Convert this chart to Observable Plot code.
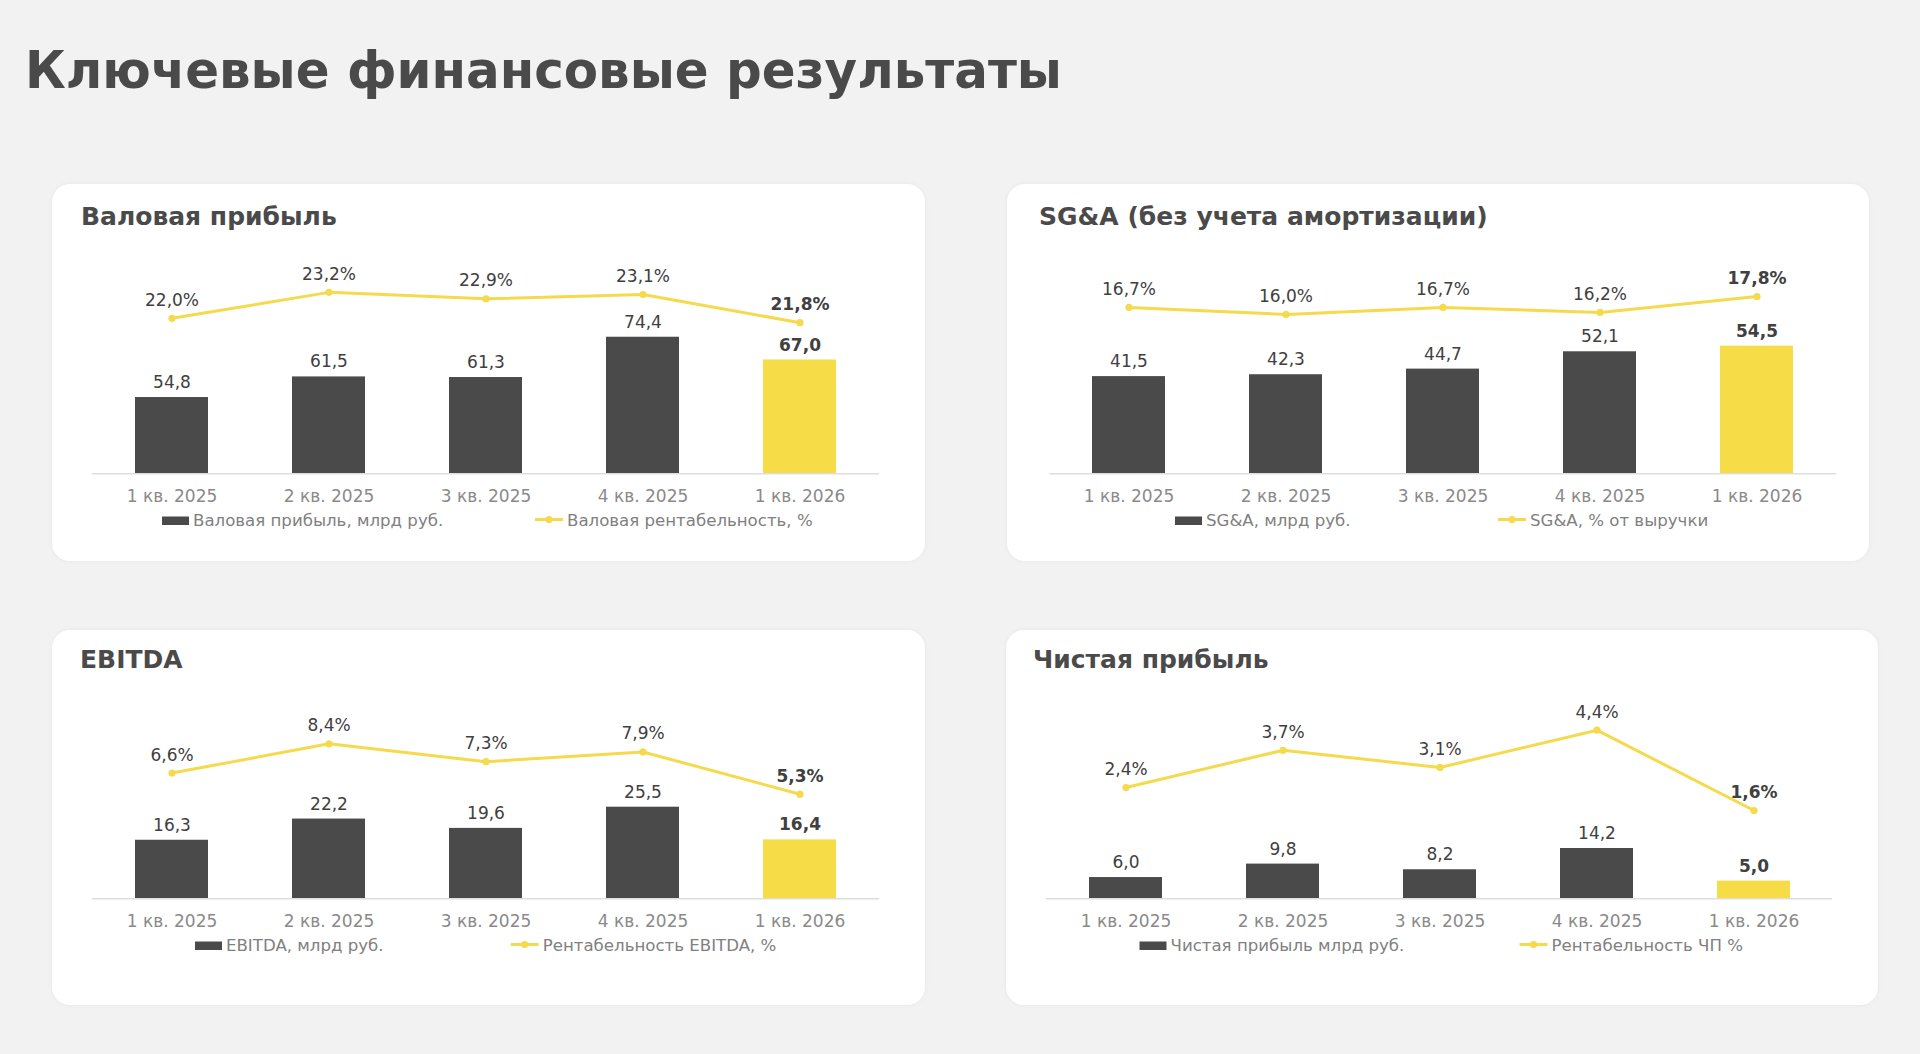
<!DOCTYPE html>
<html lang="ru">
<head>
<meta charset="utf-8">
<script src="https://cdn.jsdelivr.net/npm/d3@7"></script>
<script src="https://cdn.jsdelivr.net/npm/@observablehq/plot@0.6"></script>
<style>
  html, body { margin: 0; padding: 0; }
  body {
    width: 1920px; height: 1054px; background: #f2f2f2;
    position: relative; overflow: hidden;
    font-family: "DejaVu Sans", Verdana, sans-serif;
  }
  h1 {
    position: absolute; left: 25px; top: 44px; margin: 0;
    font-size: 52px; line-height: 52px; font-weight: bold;
    color: #4a4a4a; white-space: nowrap;
    transform: scaleX(0.96); transform-origin: 0 0;
  }
  .card {
    position: absolute; background: #ffffff; border-radius: 18px;
    box-shadow: 0 0 5px rgba(0, 0, 0, 0.05);
  }
  .card h2 {
    position: absolute; margin: 0;
    font-size: 25px; line-height: 25px; font-weight: bold;
    color: #4a4a4a; white-space: nowrap;
  }
  .card svg { position: absolute; left: 0; overflow: visible; }
</style>
</head>
<body>
<h1>Ключевые финансовые результаты</h1>
<script>
// Quarters on the category axis
const quarters = ["1 кв. 2025", "2 кв. 2025", "3 кв. 2025", "4 кв. 2025", "1 кв. 2026"];

// Gross profit, bn RUB, and gross margin, %
const grossProfit = [54.8, 61.5, 61.3, 74.4, 67.0];
const grossMargin = [22.0, 23.2, 22.9, 23.1, 21.8];

// SG&A excluding D&A, bn RUB, and as % of revenue
const sgaValue = [41.5, 42.3, 44.7, 52.1, 54.5];
const sgaShare = [16.7, 16.0, 16.7, 16.2, 17.8];

// EBITDA, bn RUB, and EBITDA margin, %
const ebitdaValue = [16.3, 22.2, 19.6, 25.5, 16.4];
const ebitdaMargin = [6.6, 8.4, 7.3, 7.9, 5.3];

// Net profit, bn RUB, and net margin, %
const netProfit = [6.0, 9.8, 8.2, 14.2, 5.0];
const netMargin = [2.4, 3.7, 3.1, 4.4, 1.6];

// Panel titles and legend texts
const panelTitles = ["Валовая прибыль", "SG&A (без учета амортизации)", "EBITDA", "Чистая прибыль"];
const barSeriesNames = ["Валовая прибыль, млрд руб.", "SG&A, млрд руб.", "EBITDA, млрд руб.", "Чистая прибыль млрд руб."];
const lineSeriesNames = ["Валовая рентабельность, %", "SG&A, % от выручки", "Рентабельность EBITDA, %", "Рентабельность ЧП %"];

const DARK = "#4a4a4b";
const YELLOW = "#f6dc46";
const LINE = "#f4da4c";
const VALUE_TEXT = "#404040";
const AXIS_TEXT = "#8a8a8a";
const LEGEND_TEXT = "#808080";
const FONT = "'DejaVu Sans', Verdana, sans-serif";

const fmt = v => d3.format(".1f")(v).replace(".", ",");

// Layout of each card (page pixels) and the two value axes of each combo chart
const panels = [
  {bars: grossProfit, pcts: grossMargin, card: [52, 184, 873, 377], titleX: 81, titleBase: 225,
   x0: 92, x1: 879, base: 473.3, barDomain: [30, 96.1], lineDomain: [14.82, 24.21], legBar: 162, legLine: 535},
  {bars: sgaValue, pcts: sgaShare, card: [1007, 184, 862, 377], titleX: 1039, titleBase: 225,
   x0: 1049.4, x1: 1836, base: 473.3, barDomain: [0, 86.8], lineDomain: [0, 20.41], legBar: 1175, legLine: 1498},
  {bars: ebitdaValue, pcts: ebitdaMargin, card: [52, 630, 873, 375], titleX: 80, titleBase: 668.3,
   x0: 92, x1: 879, base: 898.3, barDomain: [0, 56.6], lineDomain: [-1.13, 11.37], legBar: 195, legLine: 510.7},
  {bars: netProfit, pcts: netMargin, card: [1006, 630, 872, 375], titleX: 1033, titleBase: 668.3,
   x0: 1046, x1: 1832, base: 898.3, barDomain: [0, 57.4], lineDomain: [-1.48, 5.61], legBar: 1139.5, legLine: 1519.5}
];

const SVG_H = 270;          // height of each chart svg
const BASE_FROM_TOP = 233.3; // distance from svg top to the category baseline

const bandX = () => ({type: "band", domain: quarters, paddingInner: 0.536, paddingOuter: 0.268});

panels.forEach((p, k) => {
  const [cx, cy, cw, ch] = p.card;
  const card = document.createElement("div");
  card.className = "card";
  Object.assign(card.style, {left: cx + "px", top: cy + "px", width: cw + "px", height: ch + "px"});
  document.body.appendChild(card);

  const h2 = document.createElement("h2");
  h2.textContent = panelTitles[k];
  h2.style.left = (p.titleX - cx) + "px";
  h2.style.top = (p.titleBase - 21.15 - cy) + "px";
  card.appendChild(h2);

  const rows = quarters.map((q, i) => ({q, bar: p.bars[i], pct: p.pcts[i], last: i === quarters.length - 1}));

  const frame = {
    width: cw, height: SVG_H,
    marginLeft: p.x0 - cx, marginRight: cx + cw - p.x1,
    marginTop: 30, marginBottom: SVG_H - BASE_FROM_TOP
  };
  const svgTop = (p.base - BASE_FROM_TOP - cy) + "px";
  const style = {background: "transparent", color: AXIS_TEXT, fontFamily: FONT, fontSize: "17px", overflow: "visible"};

  // Bars with value labels and the category axis
  const barChart = Plot.plot({
    ...frame, style,
    x: {...bandX(), label: null, tickSize: 0, tickPadding: 16.6},
    y: {domain: p.barDomain, axis: null},
    color: {type: "identity"},
    marks: [
      Plot.barY(rows, {x: "q", y1: p.barDomain[0], y2: "bar", fill: d => d.last ? YELLOW : DARK}),
      Plot.ruleY([p.barDomain[0]], {stroke: "#dedede", strokeWidth: 1.5}),
      Plot.text(rows, {filter: d => !d.last, x: "q", y: "bar", text: d => fmt(d.bar),
        dy: -9.5, lineAnchor: "bottom", fill: VALUE_TEXT}),
      Plot.text(rows, {filter: d => d.last, x: "q", y: "bar", text: d => fmt(d.bar),
        dy: -9.5, lineAnchor: "bottom", fill: VALUE_TEXT, fontWeight: "bold"})
    ]
  });
  barChart.style.top = svgTop;
  card.appendChild(barChart);

  // Percentage line on its own secondary scale
  const lineChart = Plot.plot({
    ...frame, style,
    x: {...bandX(), axis: null},
    y: {domain: p.lineDomain, axis: null},
    marks: [
      Plot.line(rows, {x: "q", y: "pct", stroke: LINE, strokeWidth: 3}),
      Plot.dot(rows, {x: "q", y: "pct", r: 3.6, fill: LINE}),
      Plot.text(rows, {filter: d => !d.last, x: "q", y: "pct", text: d => fmt(d.pct) + "%",
        dy: -12.5, lineAnchor: "bottom", fill: VALUE_TEXT}),
      Plot.text(rows, {filter: d => d.last, x: "q", y: "pct", text: d => fmt(d.pct) + "%",
        dy: -12.5, lineAnchor: "bottom", fill: VALUE_TEXT, fontWeight: "bold"})
    ]
  });
  lineChart.style.top = svgTop;
  card.appendChild(lineChart);

  // Legend row under the axis
  const legBase = 20;
  const leg = d3.create("svg")
    .attr("width", cw).attr("height", 30)
    .style("top", (p.base + 53 - legBase - cy) + "px")
    .style("font-family", FONT).style("font-size", "16.6px");
  const bx = p.legBar - cx;
  leg.append("rect").attr("x", bx).attr("y", legBase - 9.5).attr("width", 27).attr("height", 8.5).attr("fill", DARK);
  leg.append("text").attr("x", bx + 31).attr("y", legBase).attr("fill", LEGEND_TEXT).text(barSeriesNames[k]);
  const lx = p.legLine - cx;
  leg.append("line").attr("x1", lx).attr("x2", lx + 28).attr("y1", legBase - 6.5).attr("y2", legBase - 6.5)
    .attr("stroke", LINE).attr("stroke-width", 3);
  leg.append("circle").attr("cx", lx + 14).attr("cy", legBase - 6.5).attr("r", 3.6).attr("fill", LINE);
  leg.append("text").attr("x", lx + 32).attr("y", legBase).attr("fill", LEGEND_TEXT).text(lineSeriesNames[k]);
  card.appendChild(leg.node());
});
</script>
</body>
</html>
